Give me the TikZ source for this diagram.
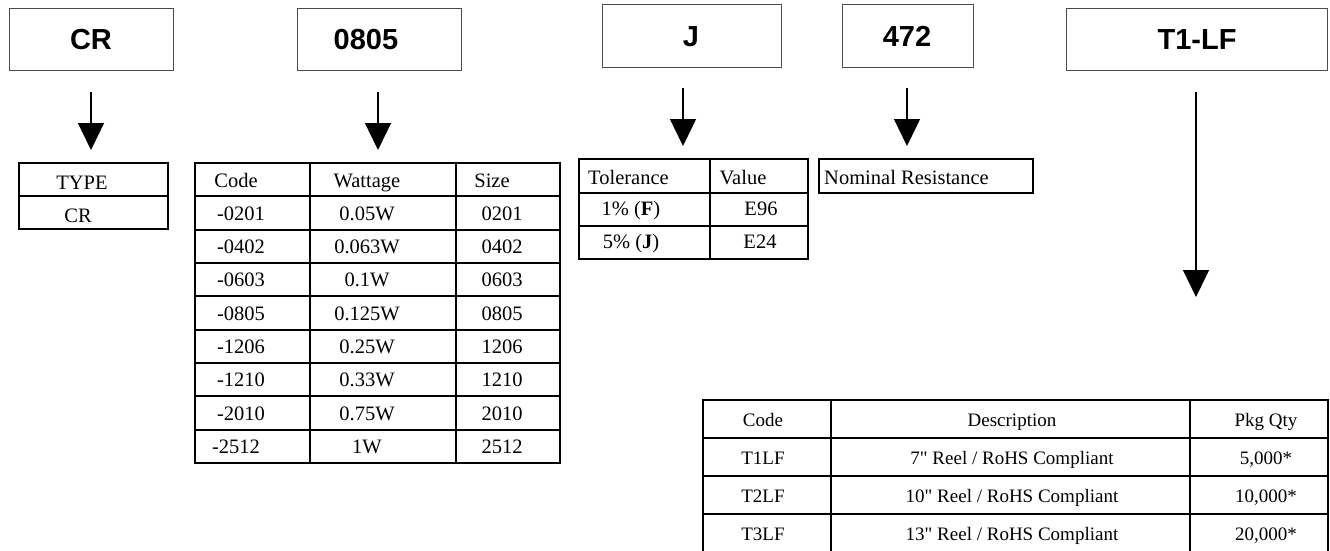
\documentclass[tikz,border=0pt]{standalone}
\usepackage{fontspec}
\setmainfont{Liberation Serif}[Ligatures=TeXOff]
\newfontfamily\headfont{Liberation Sans}
\usetikzlibrary{arrows.meta}
\begin{document}
\begin{tikzpicture}[x=1pt,y=-1pt,
  topbox/.style={draw=black!70, line width=1pt, inner sep=0pt},
  hd/.style={font=\headfont\bfseries\fontsize{29}{29}\selectfont, inner sep=0pt},
  cell/.style={font=\fontsize{20.5}{22}\selectfont, inner sep=0pt, anchor=base},
  cellw/.style={cell, anchor=base west},
  bcell/.style={font=\fontsize{19}{21}\selectfont, inner sep=0pt, anchor=base},
  tbl/.style={line width=1.8pt, line cap=rect},
  arr/.style={line width=1.3pt, -{Triangle[width=26pt,length=27pt]}}]
\useasboundingbox (0,0) rectangle (1330,551);
% top boxes
\node[topbox, minimum width=164pt, minimum height=62pt] (crbox) at (91,40) {};
\node[hd] (crtxt) at (91,40) {CR};
\node[topbox, minimum width=164pt, minimum height=62pt] (szbox) at (379,40) {};
\node[hd] (sztxt) at (366,40) {0805};
\node[topbox, minimum width=179pt, minimum height=63pt] (tolbox) at (691.5,36.5) {};
\node[hd] (toltxt) at (691,36.5) {J};
\node[topbox, minimum width=131pt, minimum height=63pt] (resbox) at (907.5,36.5) {};
\node[hd] (restxt) at (907,36.5) {472};
\node[topbox, minimum width=261pt, minimum height=62pt] (pkbox) at (1196.5,40) {};
\node[hd] (pktxt) at (1197,40) {T1-LF};
% arrows
\coordinate (a1s) at (91,92);   \coordinate (a1e) at (91,150);
\coordinate (a2s) at (378,92);  \coordinate (a2e) at (378,150);
\coordinate (a3s) at (683,88);  \coordinate (a3e) at (683,146);
\coordinate (a4s) at (907,88);  \coordinate (a4e) at (907,146);
\coordinate (a5s) at (1196,92); \coordinate (a5e) at (1196,297);
\draw[arr] (a1s) -- (a1e);
\draw[arr] (a2s) -- (a2e);
\draw[arr] (a3s) -- (a3e);
\draw[arr] (a4s) -- (a4e);
\draw[arr] (a5s) -- (a5e);
% TYPE table
\draw[tbl] (19,163) rectangle (168,229);
\draw[tbl] (19,196) -- (168,196);
\node[cell] (ty1) at (82,189) {TYPE};
\node[cell] (ty2) at (78,222) {CR};
% size table
\draw[tbl] (195,163) rectangle (560,463);
\foreach \yy in {196.3,229.7,263,296.3,329.7,363,396.3,429.7} \draw[tbl] (195,\yy) -- (560,\yy);
\draw[tbl] (310,163) -- (310,463);
\draw[tbl] (456,163) -- (456,463);
\foreach \a/\b/\c [count=\i from 0] in {Code/Wattage/Size,-0201/0.05W/0201,-0402/0.063W/0402,-0603/0.1W/0603,-0805/0.125W/0805,-1206/0.25W/1206,-1210/0.33W/1210,-2010/0.75W/2010,-2512/1W/2512}{
  \node[cell] (sa\i) at ({\i==0 || \i==8 ? 236 : 241}, {163+33.33*\i+24}) {\a};
  \node[cell] (sb\i) at (367, {163+33.33*\i+24}) {\b};
  \node[cell] (sc\i) at ({\i==0 ? 492 : 502}, {163+33.33*\i+24}) {\c};
}
% tolerance table
\draw[tbl] (579,159) rectangle (808,259);
\draw[tbl] (579,193) -- (808,193);
\draw[tbl] (579,226) -- (808,226);
\draw[tbl] (710,159) -- (710,259);
\node[cellw] (tl0) at (588,184) {Tolerance};
\node[cell] (tv0) at (743,184) {Value};
\node[cell] (tl1) at (631,215) {1\% (\textbf{F})};
\node[cell] (tv1) at (761,215) {E96};
\node[cell] (tl2) at (631,248) {5\% (\textbf{J})};
\node[cell] (tv2) at (760,248) {E24};
% nominal resistance
\draw[tbl] (819,159) rectangle (1033,193);
\node[cellw] (nr) at (824,184) {Nominal Resistance};
% packaging table
\draw[tbl] (703,400) -- (1328,400);
\draw[tbl] (703,438) -- (1328,438);
\draw[tbl] (703,476) -- (1328,476);
\draw[tbl] (703,514) -- (1328,514);
\foreach \xx in {703,831,1190,1328} \draw[tbl] (\xx,400) -- (\xx,553);
\foreach \a/\b/\c [count=\i from 0] in {Code/Description/{Pkg Qty},T1LF/{7" Reel / RoHS Compliant}/{5,000*},T2LF/{10" Reel / RoHS Compliant}/{10,000*},T3LF/{13" Reel / RoHS Compliant}/{20,000*}}{
  \node[bcell] (pa\i) at (763, {400+38*\i+26}) {\a};
  \node[bcell] (pb\i) at (1012, {400+38*\i+26}) {\b};
  \node[bcell] (pc\i) at (1266, {400+38*\i+26}) {\c};
}
\end{tikzpicture}
\end{document}
